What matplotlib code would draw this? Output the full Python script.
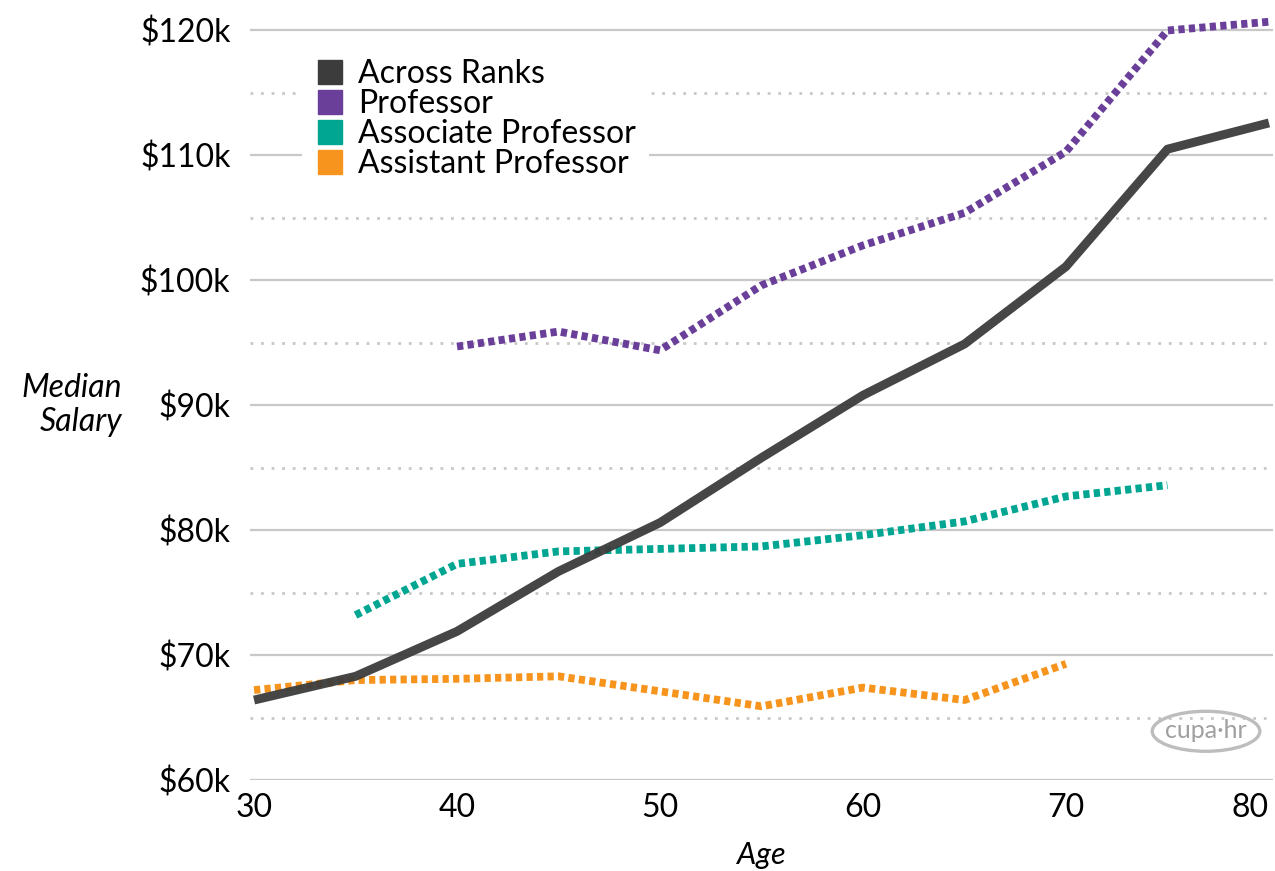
import matplotlib
matplotlib.use("Agg")
import matplotlib.pyplot as plt
from matplotlib.lines import Line2D
from matplotlib.patches import Ellipse

plt.rcParams['font.family'] = ['Lato', 'DejaVu Sans']

# median salary ($k) by age
ages_all = [30, 35, 40, 45, 50, 55, 60, 65, 70, 75, 80]
across_ranks = [66.4, 68.3, 71.9, 76.7, 80.6, 85.8, 90.8, 94.9, 101.1, 110.5, 112.6]

ages_prof = [40, 45, 50, 55, 60, 65, 70, 75, 80]
professor = [94.7, 95.9, 94.4, 99.6, 102.8, 105.4, 110.3, 120.0, 120.7]

ages_assoc = [35, 40, 45, 50, 55, 60, 65, 70, 75]
associate = [73.2, 77.3, 78.3, 78.5, 78.7, 79.6, 80.7, 82.7, 83.6]

ages_asst = [30, 35, 40, 45, 50, 55, 60, 65, 70]
assistant = [67.2, 68.0, 68.1, 68.3, 67.1, 65.9, 67.4, 66.4, 69.3]

series_names = ['Across Ranks', 'Professor', 'Associate Professor', 'Assistant Professor']
colors = ['#3c3c3c', '#6a3f99', '#00a691', '#f7941d']

fig = plt.figure(figsize=(12.75, 8.71), dpi=100)
ax = fig.add_axes([250/1275, 91/871, 1023/1275, 762/871])
ax.set_xlim(29.8, 80.2)
ax.set_ylim(60, 121)

# grid: solid every $10k, dotted halfway
for v in range(60, 121, 10):
    ax.axhline(v, color='#c8c8c8', lw=1.6, zorder=0)
for v in range(65, 120, 10):
    ax.axhline(v, color='#c8c8c8', lw=2.0, ls=(0, (1, 2.8)), zorder=0)

dots = (0, (0.8, 0.55))
ax.plot(ages_asst, assistant, color=colors[3], lw=5.6, ls=dots, zorder=2)
ax.plot(ages_assoc, associate, color=colors[2], lw=5.6, ls=dots, zorder=2)
ax.plot(ages_prof, professor, color=colors[1], lw=5.6, ls=dots, zorder=2)
ax.plot(ages_all, across_ranks, color=colors[0], lw=6.4, alpha=0.95,
        solid_capstyle='butt', zorder=3)

for s in ax.spines.values():
    s.set_visible(False)
ax.set_yticks(range(60, 121, 10))
ax.set_yticklabels(['$%dk' % v for v in range(60, 121, 10)])
ax.set_xticks(range(30, 81, 10))
ax.tick_params(length=0, labelsize=23, colors='black')
ax.tick_params(axis='y', pad=14)
ax.tick_params(axis='x', pad=9)
ax.get_xticklabels()[-1].set_ha('right')

ax.set_xlabel('Age', fontsize=22, style='italic', labelpad=13)
fig.text(122/1275, 1 - 405/871, 'Median\nSalary', fontsize=23, style='italic',
         ha='right', va='center', multialignment='right', linespacing=1.15)

handles = [Line2D([], [], ls='none', marker='s', markersize=17, color=c) for c in colors]
leg = ax.legend(handles, series_names, loc='upper left',
                bbox_to_anchor=(302/1275, 1 - 46/871), bbox_transform=fig.transFigure,
                fontsize=23, frameon=True, facecolor='white', edgecolor='none',
                framealpha=1, fancybox=False, borderaxespad=0, borderpad=0.4,
                labelspacing=0.0, handlelength=0.95, handletextpad=0.4)
leg.set_zorder(5)

# logo
ax.add_patch(Ellipse((76.9, 63.9), 5.3, 3.2, fill=False, ec='#bdbdbd', lw=2.4, zorder=1))
ax.text(76.9, 64.0, 'cupa·hr', fontsize=18, color='#a0a0a0', ha='center', va='center', zorder=1)

fig.savefig('out.png', dpi=100)
